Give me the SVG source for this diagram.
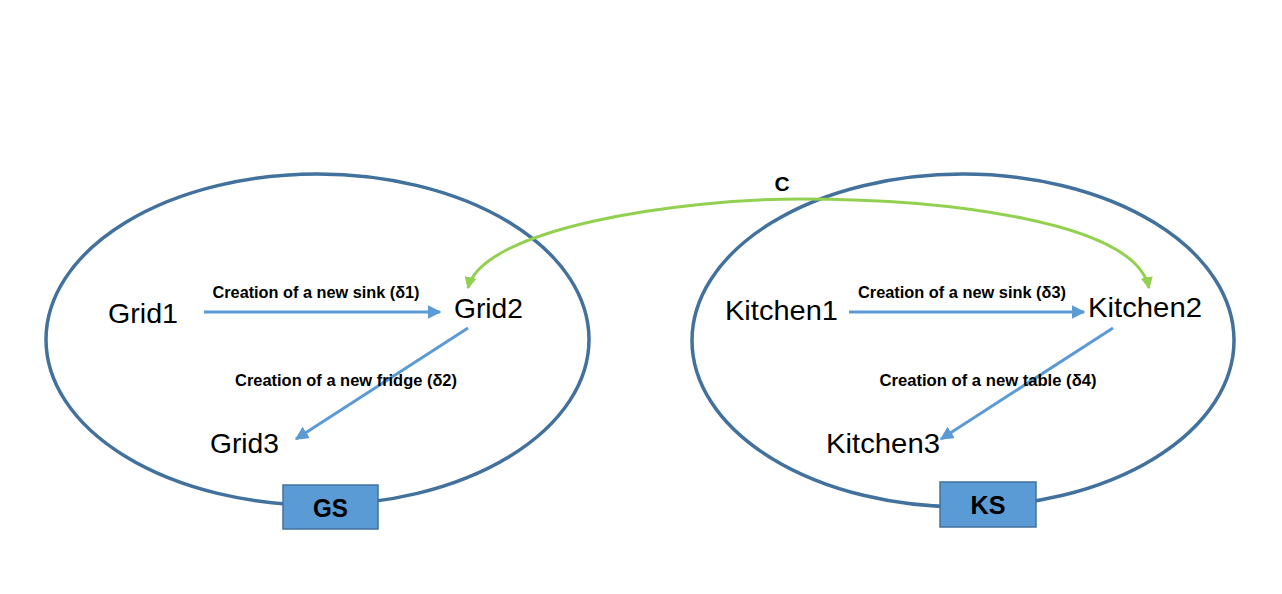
<svg xmlns="http://www.w3.org/2000/svg" width="1282" height="594" viewBox="0 0 1282 594">
<style>
.set{fill:none;stroke:#41719C;stroke-width:3.5}
.node{font-family:"Liberation Sans",Arial,sans-serif;font-size:28px;fill:#000}
.lbl{font-family:"Liberation Sans",Arial,sans-serif;font-size:16.5px;font-weight:bold;fill:#000}
.box{fill:#5B9BD5;stroke:#41719C;stroke-width:1.5}
.boxt{font-family:"Liberation Sans",Arial,sans-serif;font-size:26px;font-weight:bold;fill:#000;text-anchor:middle}
.arr{fill:none;stroke:#5B9BD5;stroke-width:3}
.grn{fill:none;stroke:#92D050;stroke-width:3}
</style>
<defs>
<marker id="ab" viewBox="0 0 10 10" refX="9" refY="5" markerWidth="4.5" markerHeight="4.5" orient="auto" markerUnits="strokeWidth"><path d="M0,0 L10,5 L0,10 z" fill="#5B9BD5"/></marker>
<marker id="ag" viewBox="0 0 10 10" refX="9" refY="5" markerWidth="4" markerHeight="4" orient="auto-start-reverse" markerUnits="strokeWidth"><path d="M0,0 L10,5 L0,10 z" fill="#92D050"/></marker>
</defs>
<rect width="1282" height="594" fill="#fff"/>
<g id="GS-set">
<ellipse class="set" cx="317.5" cy="339.5" rx="271.5" ry="165.5"/>
</g>
<g id="KS-set">
<ellipse class="set" cx="963" cy="340.5" rx="271" ry="166.5"/>
</g>
<g id="connectors">
<line class="arr" x1="204" y1="312" x2="440" y2="312" marker-end="url(#ab)"/>
<line class="arr" x1="468" y1="328" x2="296" y2="439" marker-end="url(#ab)"/>
<line class="arr" x1="849" y1="312" x2="1084" y2="312" marker-end="url(#ab)"/>
<line class="arr" x1="1113" y1="328" x2="941" y2="439" marker-end="url(#ab)"/>
<path class="grn" d="M468,288 C482,228 680,199 800,199 C940,199 1135,220 1149,288" marker-start="url(#ag)" marker-end="url(#ag)"/>
<text class="lbl" x="316" y="298" text-anchor="middle" textLength="207" lengthAdjust="spacingAndGlyphs">Creation of a new sink (δ1)</text>
<text class="lbl" x="346" y="386" text-anchor="middle" textLength="222" lengthAdjust="spacingAndGlyphs">Creation of a new fridge (δ2)</text>
<text class="lbl" x="962" y="298" text-anchor="middle" textLength="208" lengthAdjust="spacingAndGlyphs">Creation of a new sink (δ3)</text>
<text class="lbl" x="988" y="386" text-anchor="middle" textLength="217" lengthAdjust="spacingAndGlyphs">Creation of a new table (δ4)</text>
<text class="lbl" x="782" y="191" text-anchor="middle" style="font-size:21px">C</text>
</g>
<g id="Grid1"><text class="node" x="108" y="323" textLength="70" lengthAdjust="spacingAndGlyphs">Grid1</text></g>
<g id="Grid2"><text class="node" x="454" y="318" textLength="69" lengthAdjust="spacingAndGlyphs">Grid2</text></g>
<g id="Grid3"><text class="node" x="210" y="453" textLength="69" lengthAdjust="spacingAndGlyphs">Grid3</text></g>
<g id="Kitchen1"><text class="node" x="725" y="320" textLength="113" lengthAdjust="spacingAndGlyphs">Kitchen1</text></g>
<g id="Kitchen2"><text class="node" x="1088" y="317" textLength="114" lengthAdjust="spacingAndGlyphs">Kitchen2</text></g>
<g id="Kitchen3"><text class="node" x="826" y="453" textLength="114" lengthAdjust="spacingAndGlyphs">Kitchen3</text></g>
<g id="GS">
<rect class="box" x="283" y="485" width="95" height="44"/>
<text class="boxt" x="330.5" y="517" textLength="35" lengthAdjust="spacingAndGlyphs">GS</text>
</g>
<g id="KS">
<rect class="box" x="940" y="482" width="96" height="45"/>
<text class="boxt" x="988" y="514" textLength="35" lengthAdjust="spacingAndGlyphs">KS</text>
</g>
</svg>
